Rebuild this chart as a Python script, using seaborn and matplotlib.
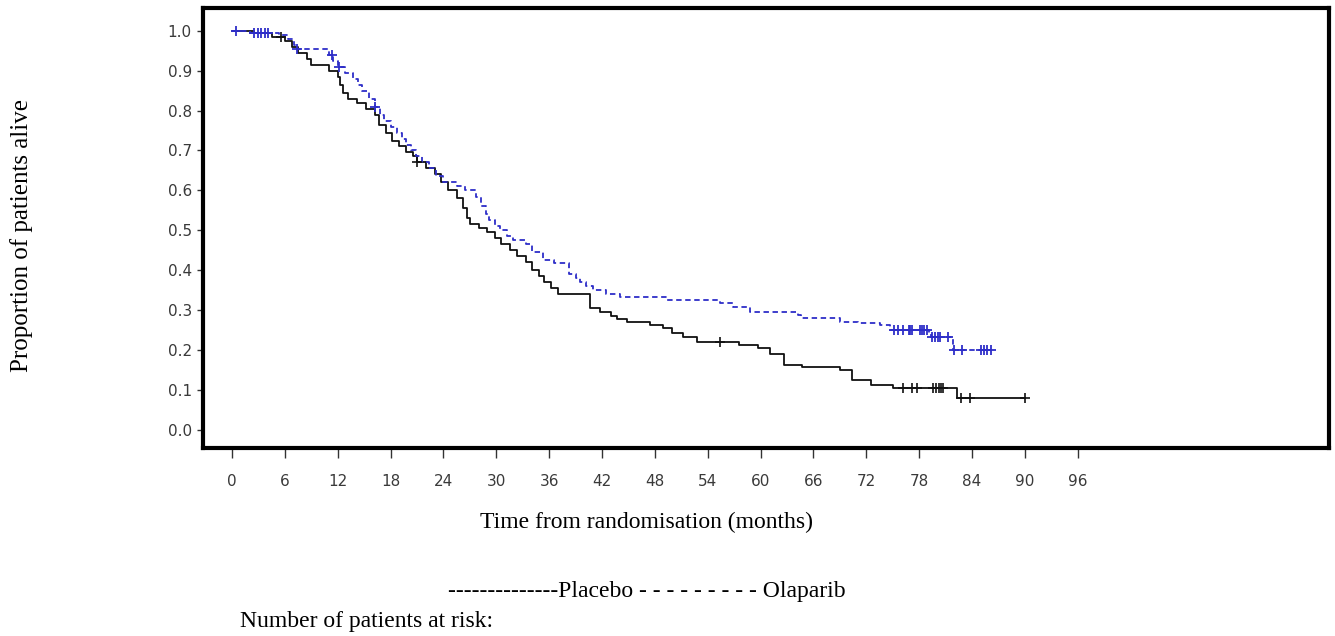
import numpy as np
import pandas as pd
import matplotlib
matplotlib.use("Agg")
import matplotlib.pyplot as plt
import seaborn as sns

# ---- data ----
placebo_t = [0, 2.5, 4.5, 6.0, 6.8, 7.5, 8.5, 9.0, 11.0, 12.0, 12.3, 12.6, 13.2, 14.2, 15.2,
             16.2, 16.7, 17.5, 18.2, 19.0, 19.8, 20.5, 21.0, 22.0, 23.0, 23.7, 24.5, 25.5,
             26.2, 26.7, 27.0, 28.0, 28.9, 29.8, 30.5, 31.5, 32.3, 33.4, 34.1, 34.8, 35.4,
             36.2, 37.0, 40.6, 41.8, 43.0, 43.7, 44.8, 47.4, 48.9, 50.0, 51.2, 52.8, 57.5,
             59.7, 61.1, 62.6, 64.7, 69.0, 70.4, 72.5, 75.0, 82.3, 90.0]
placebo_s = [1.0, 0.993, 0.985, 0.975, 0.96, 0.945, 0.93, 0.915, 0.90, 0.885, 0.865, 0.845,
             0.83, 0.82, 0.805, 0.79, 0.765, 0.745, 0.725, 0.71, 0.695, 0.685, 0.67, 0.655,
             0.64, 0.62, 0.60, 0.58, 0.555, 0.53, 0.515, 0.505, 0.495, 0.48, 0.465, 0.45,
             0.435, 0.42, 0.40, 0.385, 0.37, 0.355, 0.34, 0.305, 0.295, 0.285, 0.278, 0.27,
             0.263, 0.255, 0.243, 0.233, 0.22, 0.212, 0.205, 0.19, 0.163, 0.158, 0.15,
             0.125, 0.113, 0.104, 0.08, 0.08]
placebo_censor = [5.6, 21.0, 55.4, 76.2, 77.2, 77.8, 79.6, 79.9, 80.2, 80.5, 80.7, 82.7, 83.8, 90.0]

olaparib_t = [0, 2.0, 5.3, 6.3, 7.0, 7.4, 11.0, 11.5, 12.0, 12.8, 13.7, 14.3, 14.8, 15.5,
              16.2, 16.8, 17.3, 18.0, 18.7, 19.3, 19.8, 20.3, 20.9, 21.6, 22.4, 23.2, 24.0,
              25.5, 26.5, 27.7, 28.3, 28.8, 29.2, 29.8, 30.4, 31.2, 31.9, 33.4, 34.1, 35.3,
              36.5, 38.3, 39.0, 39.5, 40.2, 41.0, 42.5, 44.0, 49.4, 55.4, 56.9, 58.8, 64.3,
              64.6, 69.0, 71.0, 73.6, 74.7, 79.1, 79.3, 81.8, 86.3]
olaparib_s = [1.0, 0.993, 0.988, 0.98, 0.965, 0.955, 0.94, 0.925, 0.91, 0.895, 0.88, 0.865,
              0.85, 0.83, 0.81, 0.79, 0.775, 0.76, 0.745, 0.73, 0.715, 0.70, 0.685, 0.67,
              0.655, 0.635, 0.62, 0.61, 0.60, 0.583, 0.56, 0.54, 0.525, 0.51, 0.50, 0.485,
              0.475, 0.465, 0.445, 0.425, 0.417, 0.39, 0.38, 0.37, 0.36, 0.35, 0.34, 0.333,
              0.325, 0.317, 0.308, 0.296, 0.288, 0.28, 0.27, 0.267, 0.263, 0.25, 0.242,
              0.232, 0.20, 0.20]
olaparib_censor = [0.5, 2.5, 2.9, 3.3, 3.7, 4.1, 7.4, 11.3, 12.2, 16.2, 75.1, 75.6, 76.2,
                   76.8, 77.0, 77.2, 78.1, 78.3, 78.5, 78.9, 79.5, 79.8, 80.1, 80.4, 81.3,
                   81.9, 82.9, 85.0, 85.4, 85.7, 86.1]

x_ticks = [0, 6, 12, 18, 24, 30, 36, 42, 48, 54, 60, 66, 72, 78, 84, 90, 96]
y_ticks = [0.0, 0.1, 0.2, 0.3, 0.4, 0.5, 0.6, 0.7, 0.8, 0.9, 1.0]

x_label = "Time from randomisation (months)"
y_label = "Proportion of patients alive"
legend_line = "--------------Placebo - - - - - - - - - Olaparib"
risk_line = "Number of patients at risk:"

PLACEBO_COLOR = "#111111"
OLAPARIB_COLOR = "#2e2ec8"


def surv_at(times, surv, t):
    idx = np.searchsorted(np.asarray(times), np.asarray(t), side="right") - 1
    return np.asarray(surv)[idx]


sns.set_theme(style="white")
plt.rcParams["font.family"] = ["DejaVu Sans"]

W, H = 1335, 636
fig = plt.figure(figsize=(W / 100, H / 100), dpi=100)
ax = fig.add_axes([203 / W, 1 - 448 / H, (1329 - 203) / W, (448 - 8) / H])

df_p = pd.DataFrame({"t": placebo_t, "s": placebo_s})
df_o = pd.DataFrame({"t": olaparib_t, "s": olaparib_s})

sns.lineplot(data=df_p, x="t", y="s", ax=ax, estimator=None, sort=False,
             drawstyle="steps-post", color=PLACEBO_COLOR, linewidth=1.3, zorder=3)
sns.lineplot(data=df_o, x="t", y="s", ax=ax, estimator=None, sort=False,
             drawstyle="steps-post", color=OLAPARIB_COLOR, linewidth=1.3,
             linestyle=(0, (3.0, 2.0)), zorder=4)

cp = pd.DataFrame({"t": placebo_censor, "s": surv_at(placebo_t, placebo_s, placebo_censor)})
co = pd.DataFrame({"t": olaparib_censor, "s": surv_at(olaparib_t, olaparib_s, olaparib_censor)})
sns.scatterplot(data=cp, x="t", y="s", ax=ax, marker="+", s=60, color=PLACEBO_COLOR,
                linewidth=1.2, zorder=5)
sns.scatterplot(data=co, x="t", y="s", ax=ax, marker="+", s=60, color=OLAPARIB_COLOR,
                linewidth=1.3, zorder=6)

x_per_px = 1 / 8.81
ax.set_xlim(-29 * x_per_px, (1329 - 232) * x_per_px)
y_per_px = 1 / 399.3
ax.set_ylim(-(448 - 430) * y_per_px, 1 + (30.7 - 8) * y_per_px)

ax.set_xticks(x_ticks)
ax.set_xticklabels([str(v) for v in x_ticks])
ax.set_yticks(y_ticks)
ax.set_yticklabels([f"{v:.1f}" for v in y_ticks])
ax.tick_params(axis="x", direction="out", length=7, width=1, color="#333333",
               pad=12, labelsize=11, labelcolor="#3a3a3a", bottom=True)
ax.tick_params(axis="y", direction="out", length=4, width=1, color="#333333",
               pad=4, labelsize=11, labelcolor="#3a3a3a", left=True)

for sp in ax.spines.values():
    sp.set_visible(True)
    sp.set_color("black")
    sp.set_linewidth(3)

ax.set_xlabel("")
ax.set_ylabel("")
serif = ["Liberation Serif", "DejaVu Serif"]
fig.text(480 / W, 1 - 528 / H, x_label, ha="left", va="baseline",
         fontsize=17, family=serif, color="black")
fig.text(22 / W, 1 - 236 / H, y_label, ha="center", va="center", rotation=90,
         fontsize=18, family=serif, color="black")
fig.text(448 / W, 1 - 597 / H, legend_line, ha="left", va="baseline",
         fontsize=17, family=serif, color="black")
fig.text(240 / W, 1 - 627 / H, risk_line, ha="left", va="baseline",
         fontsize=17, family=serif, color="black")

fig.savefig("out.png", dpi=100, facecolor="white")
